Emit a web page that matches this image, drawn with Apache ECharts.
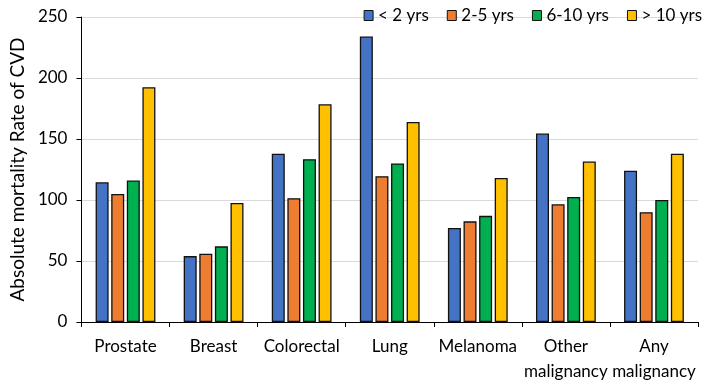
<!DOCTYPE html>
<html><head><meta charset="utf-8">
<script src="https://cdn.jsdelivr.net/npm/echarts@6/dist/echarts.min.js"></script>
<style>html,body{margin:0;padding:0;background:#fff}#c{width:709px;height:384px}</style>
</head><body><div id="c"></div>
<script>
const categories = ['Prostate', 'Breast', 'Colorectal', 'Lung', 'Melanoma', 'Other\nmalignancy', 'Any\nmalignancy'];
const seriesNames = ['< 2 yrs', '2-5 yrs', '6-10 yrs', '> 10 yrs'];
const lt2 = [114.5, 54, 138, 234, 77, 154.5, 124];
const y2to5 = [105, 56, 101.5, 119.5, 82.5, 96.5, 90];
const y6to10 = [116, 62, 133.5, 130, 87, 102.5, 100];
const gt10 = [192.5, 97.5, 178.5, 164, 118, 131.5, 138];
const colors = ['#4472C4', '#ED7D31', '#00B050', '#FFC000'];
const yTicks = [0, 50, 100, 150, 200, 250];

const font = 'Lato, "Open Sans", sans-serif';
const data = [lt2, y2to5, y6to10, gt10];
const chart = echarts.init(document.getElementById('c'));
chart.setOption({
  animation: false,
  textStyle: {fontFamily: font},
  legend: {
    top: 2, right: 2, icon: 'rect', itemWidth: 9, itemHeight: 10, itemGap: 18,
    itemStyle: {borderColor: '#111', borderWidth: 1},
    textStyle: {fontSize: 17, color: '#000', fontFamily: font},
    data: seriesNames
  },
  grid: {left: 71, right: 11, top: 17, bottom: 57, containLabel: false},
  xAxis: {
    type: 'category', data: categories, boundaryGap: true,
    axisLine: {lineStyle: {color: '#000', width: 1}},
    axisTick: {show: true, length: 5, lineStyle: {color: '#000'}},
    axisLabel: {fontSize: 17, color: '#000', fontFamily: font, margin: 12, lineHeight: 25, interval: 0, verticalAlign: 'top'}
  },
  yAxis: {
    type: 'value', min: yTicks[0], max: yTicks[yTicks.length-1], interval: 50,
    name: 'Absolute mortality Rate of CVD', nameLocation: 'middle', nameGap: 53,
    nameTextStyle: {fontSize: 19, color: '#000', fontFamily: font},
    axisLine: {show: true, lineStyle: {color: '#000', width: 1}},
    axisTick: {show: true, length: 5, lineStyle: {color: '#000'}},
    axisLabel: {fontSize: 17, color: '#000', fontFamily: font, margin: 14},
    splitLine: {lineStyle: {color: '#d9d9d9', width: 1}}
  },
  series: seriesNames.map((n, i) => ({
    name: n, type: 'bar', data: data[i], barWidth: 13, barGap: '20%',
    itemStyle: {color: colors[i], borderColor: '#111', borderWidth: 1.3}
  }))
});
</script></body></html>
